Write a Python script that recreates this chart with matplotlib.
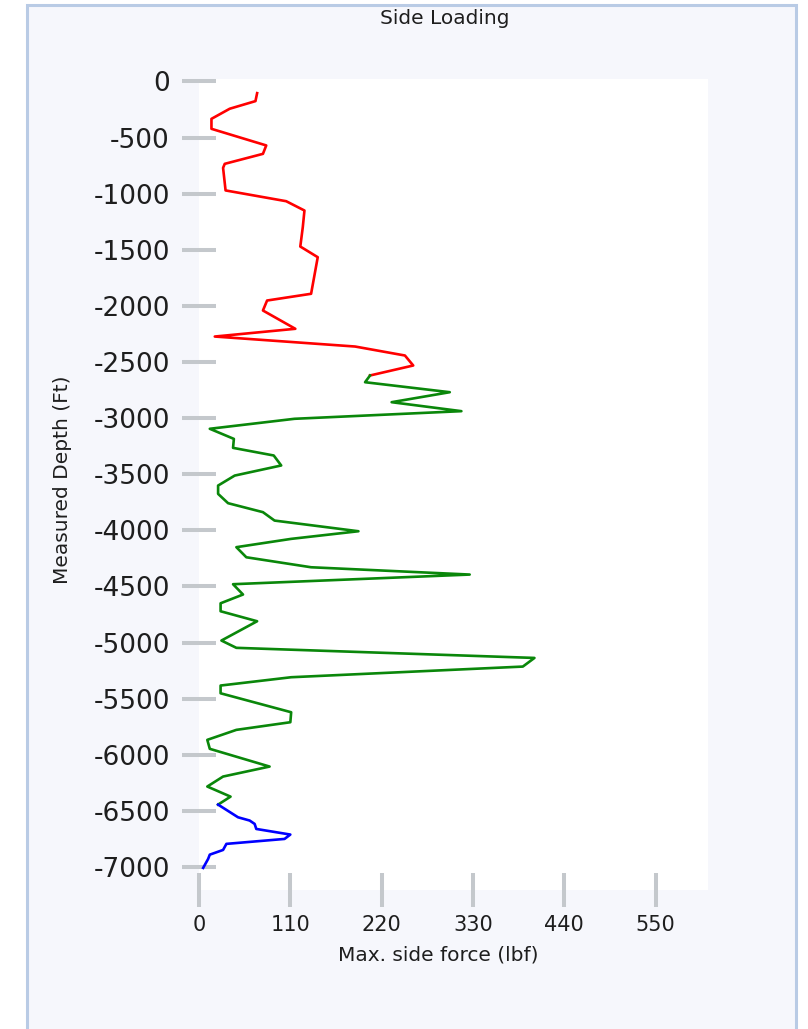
import matplotlib
matplotlib.use("Agg")
import matplotlib.pyplot as plt
from matplotlib.patches import Rectangle

# Side force along the well, split into three sections
red_depth = [-104, -175, -243, -333, -422, -570, -645, -734, -770, -971, -1067,
             -1150, -1298, -1471, -1566, -1892, -1952, -2041, -2204, -2273,
             -2362, -2442, -2531, -2620]
red_force = [70, 68, 37, 15, 15, 81, 77, 31, 29, 32, 105, 127, 125, 122, 143,
             135, 82, 77, 116, 19, 188, 248, 258, 206]

green_depth = [-2620, -2680, -2769, -2858, -2938, -3006, -3095, -3185, -3265,
               -3333, -3422, -3512, -3601, -3675, -3758, -3838, -3913, -4008,
               -4076, -4150, -4240, -4329, -4394, -4480, -4572, -4650, -4721,
               -4810, -4982, -5047, -5137, -5214, -5309, -5383, -5452, -5621,
               -5710, -5778, -5867, -5947, -6105, -6194, -6283, -6373, -6444]
green_force = [206, 200, 302, 232, 316, 115, 13, 42, 41, 90, 99, 43, 23, 23,
               35, 77, 91, 192, 111, 45, 57, 135, 326, 41, 53, 26, 26, 70, 27,
               45, 404, 390, 111, 26, 26, 111, 110, 45, 10, 13, 85, 29, 10, 38,
               23]

blue_depth = [-6444, -6557, -6586, -6616, -6661, -6711, -6750, -6794, -6848,
              -6890, -6928, -7008]
blue_force = [23, 47, 61, 67, 69, 110, 103, 33, 29, 13, 11, 5]

x_ticks = [0, 110, 220, 330, 440, 550]
y_ticks = [0, -500, -1000, -1500, -2000, -2500, -3000, -3500, -4000, -4500,
           -5000, -5500, -6000, -6500, -7000]

W, H = 808, 1029
fig = plt.figure(figsize=(W / 100, H / 100), dpi=100)
fig.patch.set_facecolor("white")

# panel background with thin blue frame
fig.patches.append(Rectangle((27 / W, -0.02), (796 - 27) / W, (H - 5) / H + 0.02,
                             transform=fig.transFigure, facecolor="#f6f7fc",
                             edgecolor="#b9cbe5", linewidth=2.2, zorder=-5))

ax = fig.add_axes([199 / W, 1 - 890 / H, (708 - 199) / W, (890 - 79) / H])
ax.set_zorder(1)
ax.set_facecolor("white")
for s in ax.spines.values():
    s.set_visible(False)

lw = 1.9
ax.plot(red_force, red_depth, color="#ff0000", lw=lw, solid_joinstyle="round")
ax.plot(green_force, green_depth, color="#0a870a", lw=lw, solid_joinstyle="round")
ax.plot(blue_force, blue_depth, color="#0000ff", lw=lw, solid_joinstyle="round")

ax.set_xlim(0, 613)
ax.set_ylim(-7205, 22)

ax.set_xticks(x_ticks)
ax.set_xticklabels([str(v) for v in x_ticks], fontsize=15, family="DejaVu Sans",
                   color="#1e1e1e")
ax.set_yticks(y_ticks)
ax.set_yticklabels([str(v) for v in y_ticks], fontsize=19, family="DejaVu Sans",
                   color="#1e1e1e")
ax.tick_params(axis="both", direction="inout", length=25, width=2.9,
               color="#c4c8cc")
ax.tick_params(axis="x", pad=5.5)
ax.tick_params(axis="y", pad=8.4)

fig.text(444.5 / W, 1 - 19 / H, "Side Loading", ha="center", va="center",
         fontsize=14.5, family="DejaVu Sans", color="#1e1e1e")
fig.text(438 / W, 1 - 955 / H, "Max. side force (lbf)", ha="center",
         va="center", fontsize=14.5, family="DejaVu Sans", color="#1e1e1e")
fig.text(63 / W, 1 - 480 / H, "Measured Depth (Ft)", ha="center", va="center",
         rotation=90, fontsize=14.5, family="DejaVu Sans", color="#1e1e1e")

fig.savefig("out.png", dpi=100, facecolor=fig.get_facecolor())
